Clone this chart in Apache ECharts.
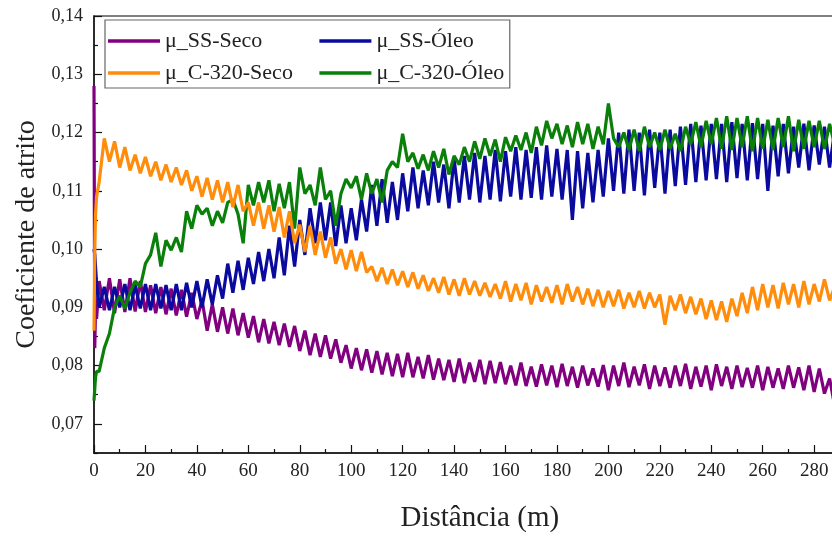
<!DOCTYPE html>
<html>
<head>
<meta charset="utf-8">
<script src="https://cdn.jsdelivr.net/npm/echarts@6/dist/echarts.min.js"></script>
<style>
  html, body { margin: 0; padding: 0; background: #fff; }
  #chart { width: 832px; height: 536px; }
</style>
</head>
<body>
<div id="chart"></div>
<script>
// distances (m): a few early samples, then every 2 m up to 288
const startDist = [0, 0.3, 0.6, 1]
const mainDist = []
for (let d = 2; d <= 288; d += 2) mainDist.push(d)
const distance = startDist.concat(mainDist)

const seriesNames = ['μ_SS-Seco', 'μ_SS-Óleo', 'μ_C-320-Seco', 'μ_C-320-Óleo']

// μ_SS-Seco
const ssSeco = [0.128, 0.083, 0.090, 0.088,
  0.0945, 0.0895, 0.0950, 0.0890, 0.0948, 0.0892, 0.0950, 0.0893, 0.0945, 0.0892,
  0.0938, 0.0890, 0.0935, 0.0888, 0.0932, 0.0886, 0.0930, 0.0884, 0.0925, 0.0880,
  0.0912, 0.0860, 0.0905, 0.0858, 0.0900, 0.0855, 0.0898, 0.0852, 0.0890, 0.0848,
  0.0885, 0.0840, 0.0880, 0.0838, 0.0875, 0.0835, 0.0872, 0.0832, 0.0868, 0.0825,
  0.0860, 0.0818, 0.0855, 0.0815, 0.0852, 0.0812, 0.0845, 0.0805, 0.0835, 0.0795,
  0.0830, 0.0792, 0.0828, 0.0788, 0.0825, 0.0785, 0.0822, 0.0782, 0.0820, 0.0780,
  0.0822, 0.0780, 0.0815, 0.0778, 0.0818, 0.0776, 0.0812, 0.0775, 0.0810, 0.0772,
  0.0812, 0.0770, 0.0805, 0.0772, 0.0810, 0.0768, 0.0808, 0.0770, 0.0806, 0.0768,
  0.0800, 0.0766, 0.0805, 0.0765, 0.0798, 0.0764, 0.0802, 0.0766, 0.0800, 0.0763,
  0.0803, 0.0765, 0.0798, 0.0762, 0.0800, 0.0766, 0.0795, 0.0764, 0.0801, 0.0758,
  0.0800, 0.0765, 0.0805, 0.0763, 0.0798, 0.0766, 0.0802, 0.0760, 0.0800, 0.0765,
  0.0797, 0.0762, 0.0800, 0.0765, 0.0803, 0.0760, 0.0798, 0.0764, 0.0800, 0.0758,
  0.0802, 0.0765, 0.0798, 0.0760, 0.0800, 0.0763, 0.0796, 0.0762, 0.0800, 0.0758,
  0.0798, 0.0762, 0.0795, 0.0760, 0.0800, 0.0762, 0.0797, 0.0758, 0.0800, 0.0755,
  0.0795, 0.0752, 0.0778, 0.0730]

// μ_SS-Óleo
const ssOleo = [0.100, 0.099, 0.097, 0.094,
  0.0900, 0.0935, 0.0895, 0.0935, 0.0900, 0.0940, 0.0895, 0.0938, 0.0898, 0.0940,
  0.0895, 0.0940, 0.0898, 0.0938, 0.0895, 0.0940, 0.0895, 0.0942, 0.0900, 0.0945,
  0.0900, 0.0948, 0.0905, 0.0955, 0.0915, 0.0975, 0.0925, 0.0980, 0.0930, 0.0985,
  0.0940, 0.0995, 0.0945, 0.1000, 0.0950, 0.1020, 0.0955, 0.1040, 0.0970, 0.1050,
  0.0990, 0.1070, 0.1010, 0.1080, 0.1015, 0.1080, 0.1005, 0.1075, 0.1010, 0.1070,
  0.1015, 0.1085, 0.1030, 0.1110, 0.1040, 0.1120, 0.1045, 0.1115, 0.1050, 0.1130,
  0.1065, 0.1140, 0.1070, 0.1135, 0.1075, 0.1150, 0.1080, 0.1145, 0.1070, 0.1155,
  0.1080, 0.1160, 0.1085, 0.1165, 0.1080, 0.1160, 0.1085, 0.1170, 0.1082, 0.1168,
  0.1090, 0.1175, 0.1085, 0.1170, 0.1088, 0.1175, 0.1085, 0.1178, 0.1090, 0.1172,
  0.1085, 0.1170, 0.1050, 0.1168, 0.1070, 0.1165, 0.1080, 0.1170, 0.1090, 0.1190,
  0.1100, 0.1200, 0.1095, 0.1205, 0.1100, 0.1200, 0.1092, 0.1205, 0.1105, 0.1200,
  0.1095, 0.1205, 0.1108, 0.1210, 0.1110, 0.1215, 0.1115, 0.1212, 0.1118, 0.1215,
  0.1120, 0.1215, 0.1115, 0.1218, 0.1122, 0.1215, 0.1118, 0.1216, 0.1120, 0.1215,
  0.1100, 0.1212, 0.1125, 0.1215, 0.1130, 0.1210, 0.1140, 0.1215, 0.1135, 0.1212,
  0.1145, 0.1210, 0.1140, 0.1205]

// μ_C-320-Seco
const c320Seco = [0.086, 0.100, 0.106, 0.109,
  0.1115, 0.1190, 0.1150, 0.1185, 0.1140, 0.1175, 0.1135, 0.1162, 0.1130, 0.1158,
  0.1125, 0.1150, 0.1118, 0.1145, 0.1115, 0.1140, 0.1110, 0.1135, 0.1100, 0.1125,
  0.1090, 0.1122, 0.1085, 0.1118, 0.1080, 0.1115, 0.1072, 0.1110, 0.1065, 0.1080,
  0.1040, 0.1080, 0.1035, 0.1075, 0.1030, 0.1072, 0.1020, 0.1065, 0.1010, 0.1042,
  0.0995, 0.1040, 0.0990, 0.1030, 0.0985, 0.1020, 0.0975, 0.1000, 0.0965, 0.0998,
  0.0962, 0.0995, 0.0960, 0.0970, 0.0945, 0.0968, 0.0940, 0.0965, 0.0938, 0.0962,
  0.0935, 0.0960, 0.0932, 0.0955, 0.0928, 0.0950, 0.0925, 0.0952, 0.0922, 0.0948,
  0.0920, 0.0950, 0.0922, 0.0945, 0.0920, 0.0942, 0.0918, 0.0940, 0.0915, 0.0945,
  0.0910, 0.0940, 0.0912, 0.0942, 0.0905, 0.0938, 0.0910, 0.0935, 0.0908, 0.0938,
  0.0905, 0.0940, 0.0910, 0.0935, 0.0905, 0.0932, 0.0902, 0.0930, 0.0900, 0.0928,
  0.0902, 0.0930, 0.0898, 0.0925, 0.0900, 0.0928, 0.0898, 0.0925, 0.0900, 0.0922,
  0.0870, 0.0920, 0.0895, 0.0922, 0.0890, 0.0918, 0.0888, 0.0915, 0.0880, 0.0912,
  0.0878, 0.0910, 0.0875, 0.0915, 0.0885, 0.0925, 0.0890, 0.0935, 0.0895, 0.0940,
  0.0900, 0.0938, 0.0898, 0.0942, 0.0905, 0.0940, 0.0900, 0.0945, 0.0905, 0.0940,
  0.0910, 0.0948, 0.0912, 0.0935]

// μ_C-320-Óleo
const c320Oleo = [0.074, 0.076, 0.078, 0.079,
  0.0790, 0.0830, 0.0855, 0.0900, 0.0920, 0.0898, 0.0925, 0.0945, 0.0935, 0.0975,
  0.0990, 0.1028, 0.0970, 0.1015, 0.0998, 0.1020, 0.0995, 0.1065, 0.1035, 0.1075,
  0.1060, 0.1070, 0.1040, 0.1065, 0.1045, 0.1080, 0.1085, 0.1060, 0.1010, 0.1110,
  0.1075, 0.1115, 0.1080, 0.1118, 0.1065, 0.1112, 0.1070, 0.1115, 0.1035, 0.1140,
  0.1095, 0.1110, 0.1075, 0.1140, 0.1085, 0.1100, 0.1040, 0.1095, 0.1120, 0.1105,
  0.1125, 0.1085, 0.1130, 0.1095, 0.1120, 0.1080, 0.1135, 0.1150, 0.1140, 0.1198,
  0.1150, 0.1165, 0.1138, 0.1162, 0.1135, 0.1168, 0.1140, 0.1172, 0.1128, 0.1160,
  0.1145, 0.1175, 0.1150, 0.1185, 0.1155, 0.1190, 0.1160, 0.1188, 0.1150, 0.1192,
  0.1168, 0.1195, 0.1170, 0.1200, 0.1165, 0.1210, 0.1178, 0.1220, 0.1190, 0.1215,
  0.1180, 0.1212, 0.1175, 0.1218, 0.1180, 0.1215, 0.1172, 0.1210, 0.1180, 0.1250,
  0.1190, 0.1175, 0.1200, 0.1170, 0.1205, 0.1168, 0.1210, 0.1175, 0.1200, 0.1170,
  0.1205, 0.1172, 0.1198, 0.1168, 0.1210, 0.1180, 0.1218, 0.1175, 0.1220, 0.1180,
  0.1225, 0.1172, 0.1228, 0.1170, 0.1225, 0.1175, 0.1228, 0.1168, 0.1225, 0.1172,
  0.1222, 0.1170, 0.1225, 0.1175, 0.1228, 0.1168, 0.1222, 0.1172, 0.1220, 0.1175,
  0.1220, 0.1172, 0.1215, 0.1178]

const yTicks = [0.07, 0.08, 0.09, 0.10, 0.11, 0.12, 0.13, 0.14]
const yMinorTicks = [0.065, 0.075, 0.085, 0.095, 0.105, 0.115, 0.125, 0.135]

const colors = ['#800080', '#0a0a9e', '#ff8c0a', '#0a800a']
const serif = 'Liberation Serif'

const chart = echarts.init(document.getElementById('chart'))

const pairs = vals => vals.map((v, i) => [distance[i], v])

chart.setOption({
  animation: false,
  color: colors,
  grid: {
    left: 94,
    top: 16,
    width: 771.6,
    height: 437,
    outerBoundsMode: 'none',
    containLabel: false,
    show: true,
    borderColor: '#555',
    borderWidth: 1.5
  },
  legend: {
    orient: 'vertical',
    left: 105,
    top: 20,
    height: 56,
    padding: [10, 0, 4, 3],
    itemGap: 10,
    itemWidth: 52,
    itemHeight: 3.5,
    icon: 'rect',
    borderColor: '#666',
    borderWidth: 1.2,
    data: ['μ_SS-Seco', 'μ_C-320-Seco', 'μ_SS-Óleo', 'μ_C-320-Óleo'],
    // trailing spaces widen the first column like the original box
    formatter: name => name.endsWith('Seco') ? name + '   ' : name + ' ',
    textStyle: {fontFamily: serif, fontSize: 22, color: '#222'}
  },
  xAxis: {
    type: 'value',
    min: 0,
    max: 300,
    interval: 20,
    name: 'Distância (m)',
    nameLocation: 'middle',
    nameGap: 51,
    nameTextStyle: {fontFamily: serif, fontSize: 29, color: '#222'},
    axisLine: {lineStyle: {color: '#111', width: 1.5}},
    axisTick: {inside: true, length: 8, lineStyle: {color: '#111', width: 1.2}},
    minorTick: {show: true, splitNumber: 2, length: 4, lineStyle: {color: '#111', width: 1.2}},
    axisLabel: {fontFamily: serif, fontSize: 19, color: '#222', margin: 9},
    splitLine: {show: false}
  },
  yAxis: [{
    type: 'value',
    min: 0.065,
    max: 0.14,
    name: 'Coeficiente de atrito',
    nameLocation: 'middle',
    nameGap: 51,
    nameTextStyle: {fontFamily: serif, fontSize: 28, color: '#222'},
    axisLine: {lineStyle: {color: '#111', width: 1.5}},
    axisTick: {inside: true, length: 8, customValues: yTicks, lineStyle: {color: '#111', width: 1.2}},
    axisLabel: {
      fontFamily: serif, fontSize: 18, color: '#222', margin: 11,
      customValues: yTicks,
      formatter: v => v.toFixed(2).replace('.', ',')
    },
    splitLine: {show: false}
  }, {
    type: 'value',
    position: 'left',
    min: 0.065,
    max: 0.14,
    axisLine: {show: false},
    axisTick: {inside: true, length: 4, customValues: yMinorTicks, lineStyle: {color: '#111', width: 1.2}},
    axisLabel: {show: false},
    splitLine: {show: false}
  }],
  series: [
    {name: seriesNames[0], data: pairs(ssSeco)},
    {name: seriesNames[1], data: pairs(ssOleo)},
    {name: seriesNames[3], data: pairs(c320Oleo)},
    {name: seriesNames[2], data: pairs(c320Seco)}
  ].map(s => Object.assign(s, {
    type: 'line',
    symbol: 'none',
    lineStyle: {width: 3.2},
    color: colors[seriesNames.indexOf(s.name)]
  }))
})
</script>
</body>
</html>
